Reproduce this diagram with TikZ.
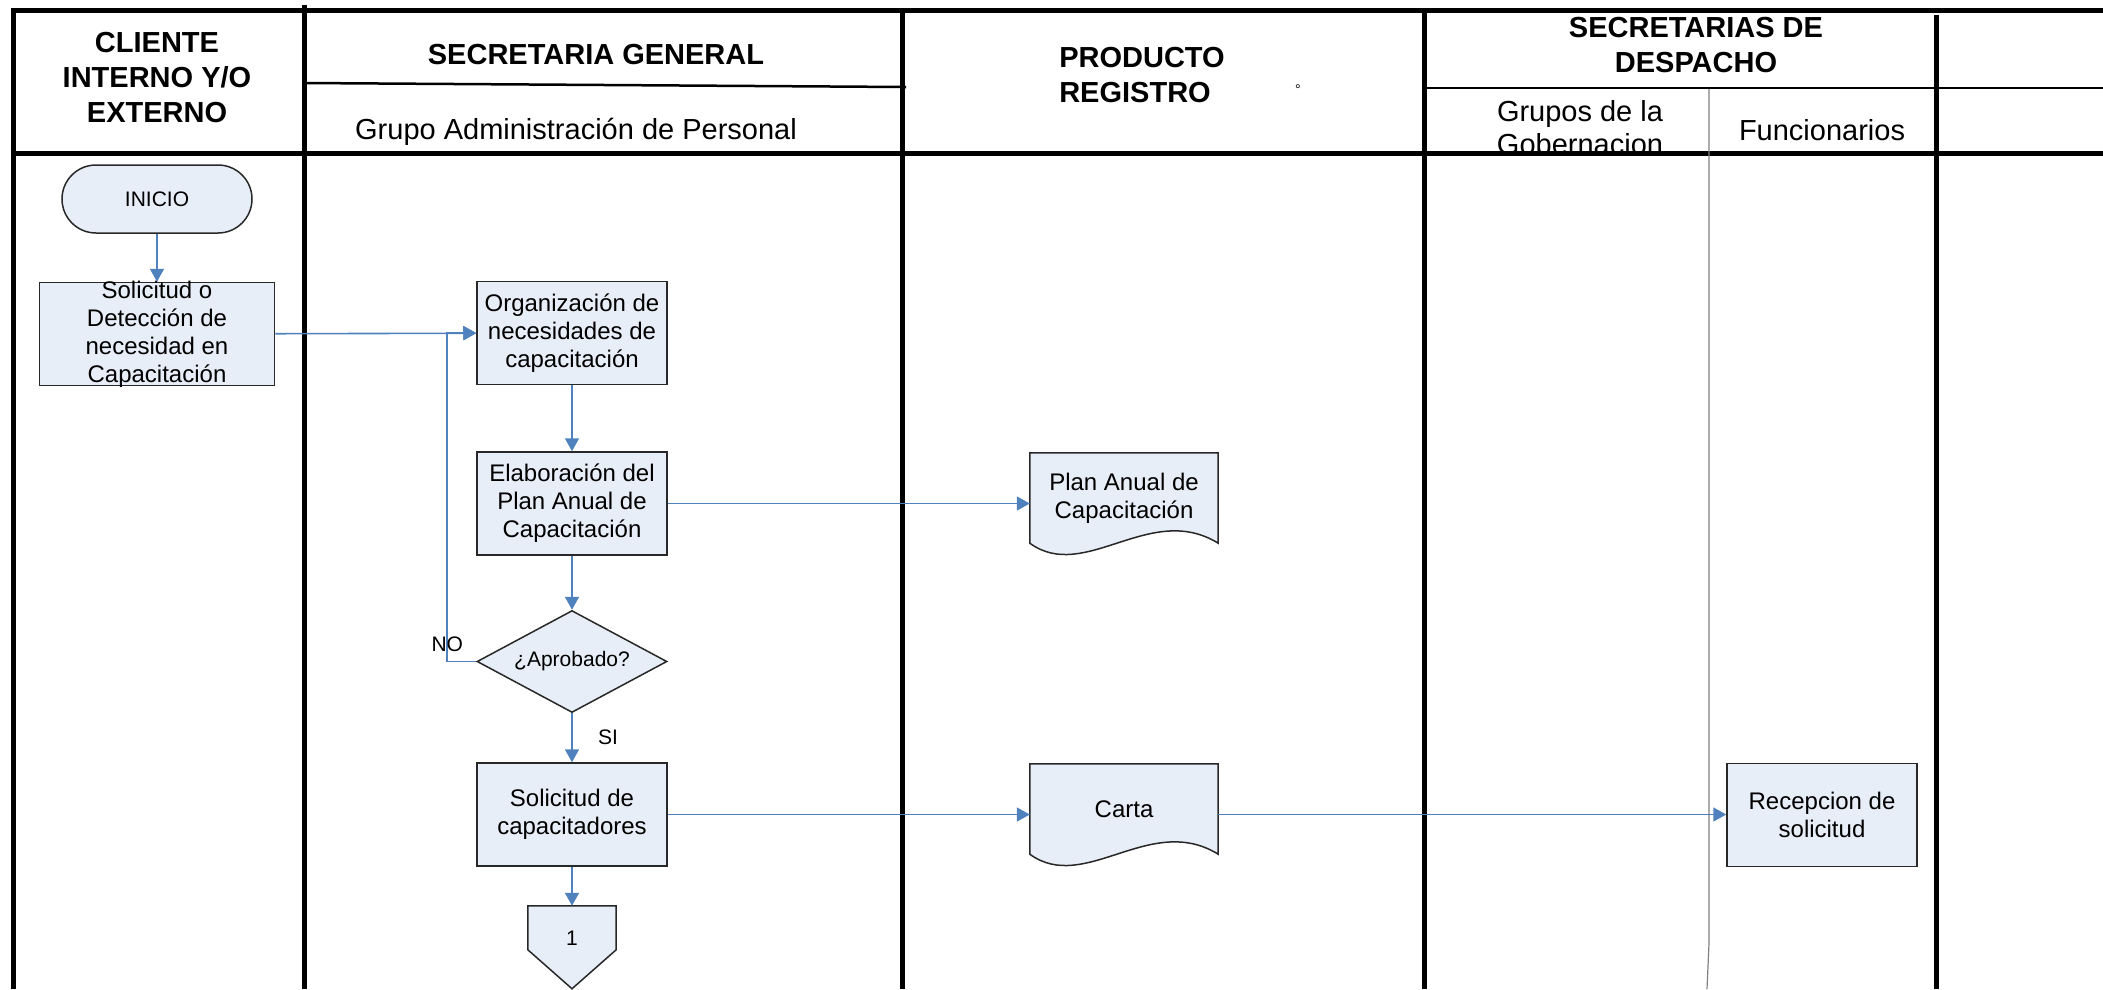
\documentclass[tikz,border=0pt]{standalone}
\usepackage{fontspec}
\setmainfont{Liberation Sans}
\usepackage{xcolor}
\usepackage{tikz}
\usetikzlibrary{shapes.geometric, arrows.meta, positioning, backgrounds}

\definecolor{boxfill}{RGB}{232,238,247}
\definecolor{flowblue}{RGB}{79,129,189}
\definecolor{boxline}{RGB}{40,40,40}

\newcommand{\hdrfont}{\fontsize{29}{35}\selectfont\bfseries}
\newcommand{\subfont}{\fontsize{29}{33}\selectfont}
\newcommand{\boxfont}{\fontsize{24}{28}\selectfont}
\newcommand{\smallfont}{\fontsize{21}{25}\selectfont}

\tikzstyle{lane}      = [line width=5pt, black]
\tikzstyle{sublane}   = [line width=2.5pt, black]
\tikzstyle{thinlane}  = [line width=1.2pt, black!50]
\tikzstyle{header}    = [align=center, font=\hdrfont]
\tikzstyle{subheader} = [align=center, font=\subfont]
\tikzstyle{startstop} = [rectangle, rounded corners=34pt, draw=boxline, fill=boxfill, line width=1.5pt, minimum width=190pt, minimum height=68pt, font=\smallfont]
\tikzstyle{process}   = [rectangle, draw=boxline, fill=boxfill, line width=1.5pt, minimum width=190pt, minimum height=103pt, align=center, font=\boxfont]
\tikzstyle{decision}  = [diamond, draw=boxline, fill=boxfill, line width=1.5pt, minimum width=190pt, minimum height=102pt, aspect=1.86, inner sep=1pt, font=\smallfont]
\tikzstyle{docbox}    = [rectangle, minimum width=188pt, minimum height=90pt, align=center, font=\boxfont]
\tikzstyle{offpage}   = [rectangle, minimum width=88pt, minimum height=64pt, font=\smallfont]
\tikzstyle{shapeline} = [draw=boxline, fill=boxfill, line width=1.5pt]
\tikzstyle{arrow}     = [-{Triangle[length=13pt, width=14pt]}, line width=1.6pt, flowblue]
\tikzstyle{flowlabel} = [text=black, font=\smallfont]

% document with wavy bottom, drawn round a named node
\newcommand{\docoutline}[1]{%
  \path[shapeline] (#1.north west) -- (#1.north east) -- (#1.south east)
    .. controls +(-68,-42) and +(55,40) .. (#1.south west) -- cycle;}
% off-page connector, pointing down
\newcommand{\offoutline}[1]{%
  \path[shapeline] (#1.north west) -- (#1.north east) -- ([yshift=-44pt]#1.north east)
    -- ([yshift=-83pt]#1.north) -- ([yshift=-44pt]#1.north west) -- cycle;}

\begin{document}
\begin{tikzpicture}[x=1pt, y=-1pt]
    \useasboundingbox (0,0) rectangle (2103,989);

    % headers
    \node (hcli) [header] at (157,78) {CLIENTE\\INTERNO Y/O\\EXTERNO};
    \node (hsg) [header] at (596,55) {SECRETARIA GENERAL};
    \node (hgap) [subheader] at (576,132) {Grupo Administración de Personal};
    \node (hprod) [header, align=left] at (1142,75) {PRODUCTO\\REGISTRO};
    \node (hdeg) [font=\fontsize{14}{16}\selectfont] at (1298,90) {°};
    \node (hsd) [header] at (1696,45) {SECRETARIAS DE\\DESPACHO};
    \node (hgrp) [subheader] at (1580,128) {Grupos de la\\Gobernacion};
    \node (hfun) [subheader] at (1822,130) {Funcionarios};

    % lanes
    \draw [lane] (10.5,10) -- (2103,10);
    \draw [lane] (10.5,153) -- (2103,153);
    \draw [lane] (13,10) -- (13,989);
    \draw [lane] (304,5) -- (304,989);
    \draw [lane] (902,10) -- (902,989);
    \draw [lane] (1424,10) -- (1424,989);
    \draw [lane] (1936,15) -- (1936,989);
    \draw [sublane] (304,83) -- (906,87);
    \draw [sublane] (1424,88) -- (2103,88);
    \draw [thinlane] (1709,89) -- (1709,943) -- (1707,989);

    % flow
    \node (inicio) [startstop] at (157,199) {INICIO};
    \node (sol) [process, minimum width=235pt, inner ysep=-2pt, below=48pt of inicio] {Solicitud o\\Detección de\\necesidad en\\Capacitación};
    \node (org) [process] at (572,333) {Organización de\\necesidades de\\capacitación};
    \node (elab) [process, below=66pt of org] {Elaboración del\\Plan Anual de\\Capacitación};
    \node (aprob) [decision, below=54pt of elab] {¿Aprobado?};
    \node (solcap) [process, below=49pt of aprob] {Solicitud de\\capacitadores};
    \node (uno) [offpage, below=39pt of solcap] {1};
    \node (plan) [docbox] at (1124,498) {Plan Anual de\\Capacitación};
    \node (carta) [docbox] at (1124,809) {Carta};
    \node (recep) [process] at (1822,815) {Recepcion de\\solicitud};

    \begin{scope}[on background layer]
        \docoutline{plan}
        \docoutline{carta}
        \offoutline{uno}
    \end{scope}

    \draw [arrow] (inicio) -- (sol);
    \draw [arrow] (sol) -- (org);
    \draw [arrow] (org) -- (elab);
    \draw [arrow] (elab) -- (elab -| plan.west);
    \draw [arrow] (elab) -- (aprob);

    \draw [arrow] (aprob.west) -- ++(-29,0) node[above, yshift=6pt, flowlabel]{NO} |- (org.west);
    \draw [arrow] (aprob) -- node[right=22pt, flowlabel]{SI} (solcap);

    \draw [arrow] (solcap) -- (solcap -| carta.west);
    \draw [arrow] (carta.east |- solcap) -- (recep.west |- solcap);
    \draw [arrow] (solcap) -- (uno);
\end{tikzpicture}
\end{document}
